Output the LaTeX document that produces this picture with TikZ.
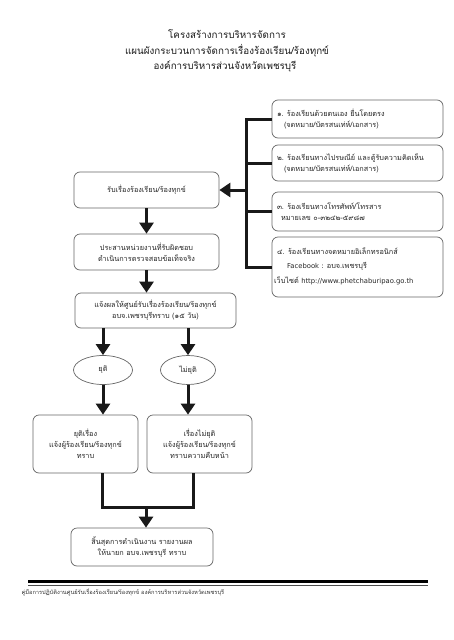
\documentclass[tikz,border=0pt]{standalone}
\usepackage{fontspec}
\setmainfont[Script=Thai]{Loma}
\newfontfamily\latinf{DejaVu Sans}
\usetikzlibrary{arrows.meta,shapes.geometric}
\newcommand{\rlines}[1]{\parbox[c]{167pt}{\raggedright #1}}
\begin{document}
\begin{tikzpicture}[x=1pt,y=-1pt,
  box/.style={draw=black!60, line width=0.7pt, rounded corners=6pt, fill=white,
    align=center, inner sep=2pt, font=\fontsize{7.3}{11}\selectfont, text=black!85},
  rbox/.style={draw=black!60, line width=0.7pt, rounded corners=6pt, fill=white,
    inner sep=1pt, minimum width=171pt, font=\fontsize{7.3}{11}\selectfont, text=black!85},
  rtxt/.style={anchor=west, inner sep=0pt, font=\fontsize{7.3}{11}\selectfont, text=black!85},
  oval/.style={ellipse, draw=black!60, line width=0.7pt, inner sep=0pt,
    font=\fontsize{7.3}{10}\selectfont, text=black!85},
  conn/.style={line width=3pt, black!90, line join=miter},
  arr/.style={conn, -{Triangle[length=11pt,width=14pt]}},
  ttl/.style={font=\fontsize{9.8}{12}\selectfont, text=black!90},
  foot/.style={font=\fontsize{5.7}{7}\selectfont, text=black!80, anchor=west}]
\useasboundingbox (0,0) rectangle (453,640);
\fill[white] (0,0) rectangle (453,640);

% title
\node[ttl] (t1) at (227,34.5) {โครงสร้างการบริหารจัดการ};
\node[ttl] (t2) at (227,50.5) {แผนผังกระบวนการจัดการเรื่องร้องเรียน/ร้องทุกข์};
\node[ttl] (t3) at (225,66) {องค์การบริหารส่วนจังหวัดเพชรบุรี};

% right column
\node[rbox, minimum height=38pt] (r1) at (357.5,119) {\rlines{\mbox{\hspace*{3pt}๑. ร้องเรียนด้วยตนเอง ยื่นโดยตรง}\\\mbox{\hspace*{10pt}(จดหมาย/บัตรสนเท่ห์/เอกสาร)}}};
\node[rbox, minimum height=36pt] (r2) at (357.5,163) {\rlines{\mbox{\hspace*{3pt}๒. ร้องเรียนทางไปรษณีย์ และตู้รับความคิดเห็น}\\\mbox{\hspace*{10pt}(จดหมาย/บัตรสนเท่ห์/เอกสาร)}}};
\node[rbox, minimum height=39pt] (r3) at (357.5,211.5) {\rlines{\mbox{\hspace*{3pt}๓. ร้องเรียนทางโทรศัพท์/โทรสาร}\\\mbox{\hspace*{7pt}หมายเลข ๐-๓๒๔๒-๕๙๘๗}}};
\node[rbox, minimum height=60pt] (r4) at (357.5,267) {};
\node[rtxt] (r4a) at (277,251) {๔. ร้องเรียนทางจดหมายอิเล็กทรอนิกส์};
\node[rtxt] (r4b) at (287,266) {{\latinf\fontsize{6.8}{11}\selectfont Facebook :} อบจ.เพชรบุรี};
\node[rtxt] (r4c) at (274,281) {เว็บไซต์ {\latinf\fontsize{6.8}{11}\selectfont http://www.phetchaburipao.go.th}};

% left column
\node[box, minimum width=145pt, minimum height=36pt] (a) at (146.5,190) {รับเรื่องร้องเรียน/ร้องทุกข์};
\node[box, minimum width=145pt, minimum height=36pt] (b) at (146.5,252) {ประสานหน่วยงานที่รับผิดชอบ\\ดำเนินการตรวจสอบข้อเท็จจริง};
\node[box, minimum width=161pt, minimum height=35pt] (c) at (155.5,310.5) {แจ้งผลให้ศูนย์รับเรื่องร้องเรียน/ร้องทุกข์\\อบจ.เพชรบุรีทราบ (๑๕ วัน)};
\node[oval, minimum width=59pt, minimum height=29pt] (o1) at (103,370) {ยุติ};
\node[oval, minimum width=55pt, minimum height=29pt] (o2) at (188,370) {ไม่ยุติ};
\node[box, minimum width=105pt, minimum height=58pt] (d) at (85.5,444) {ยุติเรื่อง\\แจ้งผู้ร้องเรียน/ร้องทุกข์\\ทราบ};
\node[box, minimum width=105pt, minimum height=58pt] (e) at (199.5,444) {เรื่องไม่ยุติ\\แจ้งผู้ร้องเรียน/ร้องทุกข์\\ทราบความคืบหน้า};
\node[box, minimum width=142pt, minimum height=38pt] (f) at (142,547) {สิ้นสุดการดำเนินงาน รายงานผล\\ให้นายก อบจ.เพชรบุรี ทราบ};

% bracket from right boxes
\coordinate (bt) at (246,119);
\coordinate (bb) at (246,267);
\draw[conn] (r1.west) -- (bt) -- (bb) -- (r4.west);
\draw[conn] (r2.west) -- (r2.west -| bt);
\draw[conn] (r3.west) -- (r3.west -| bt);
\draw[arr] (bt |- a.east) -- (a.east);

% main flow
\draw[arr] (a.south) -- (b.north);
\draw[arr] (b.south) -- (b.south |- c.north);
\draw[arr] (c.south -| o1.north) -- (o1.north);
\draw[arr] (c.south -| o2.north) -- (o2.north);
\draw[arr] (o1.south) -- (o1.south |- d.north);
\draw[arr] (o2.south) -- (o2.south |- e.north);

% merge
\coordinate (dj) at (102,507);
\coordinate (ej) at (193,507);
\coordinate (fj) at (146,507);
\draw[conn] (d.south -| dj) -- (dj) -- (ej) -- (e.south -| ej);
\draw[arr] (fj) -- (fj |- f.north);

% footer
\coordinate (l1) at (28,581.5);
\coordinate (l2) at (428,581.5);
\draw[line width=2.5pt, black] (l1) -- (l2);
\draw[line width=0.6pt, black!70] ([yshift=-3.8pt]l1) -- ([yshift=-3.8pt]l2);
\node[foot] (ft) at (18,592) {คู่มือการปฏิบัติงานศูนย์รับเรื่องร้องเรียน/ร้องทุกข์ องค์การบริหารส่วนจังหวัดเพชรบุรี};
\end{tikzpicture}
\end{document}
